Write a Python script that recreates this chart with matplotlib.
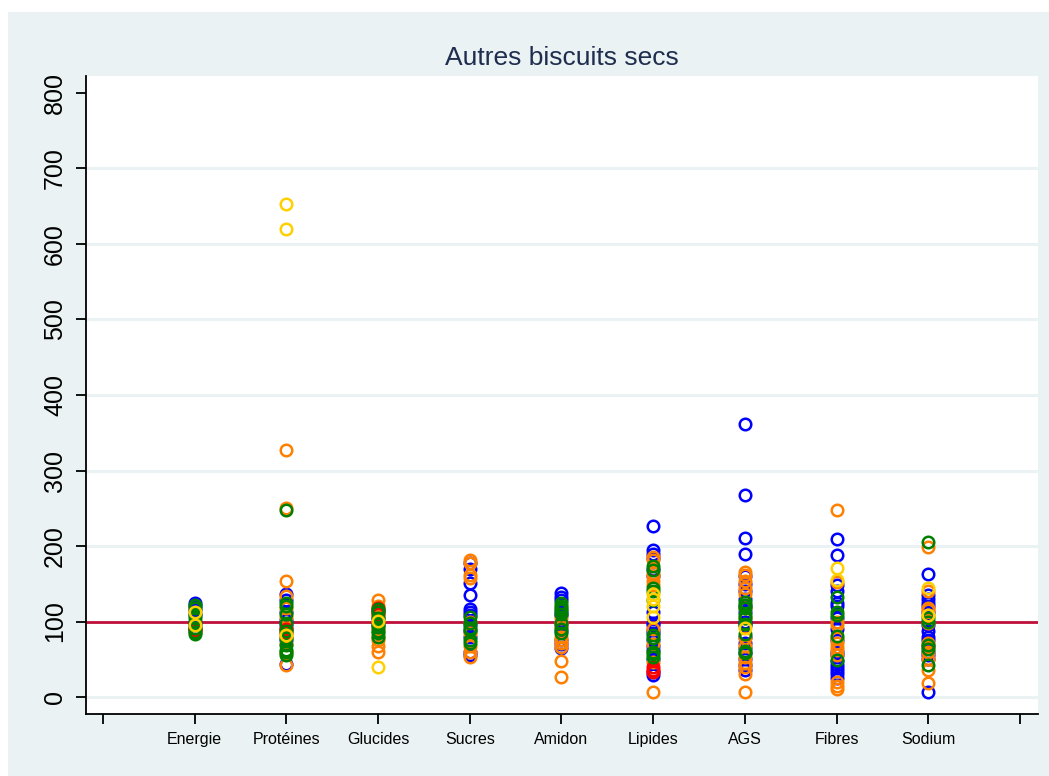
import numpy as np
import matplotlib
matplotlib.use("Agg")
import matplotlib.pyplot as plt
from matplotlib.patches import Rectangle

plt.rcParams['font.family'] = ['Liberation Sans', 'DejaVu Sans']

categories = ["Energie", "Protéines", "Glucides", "Sucres", "Amidon",
              "Lipides", "AGS", "Fibres", "Sodium"]

# one inner list per category, in the order above
bleu = [
    [124, 120, 115, 108, 100, 95, 90],
    [137, 128, 113, 102, 95, 90, 75, 44],
    [115, 105, 95],
    [177, 170, 151, 135, 116, 112, 108, 100, 95, 88, 80, 60, 56],
    [138, 133, 128, 113, 108, 95, 88, 75, 70, 65],
    [226, 195, 190, 184, 170, 160, 113, 98, 95, 89, 85, 75, 67, 62, 50, 33, 29],
    [362, 267, 210, 189, 160, 150, 140, 130, 120, 112, 100, 95, 80, 72, 65, 58, 50, 42, 36],
    [209, 188, 148, 140, 125, 120, 105, 90, 75, 60, 55, 48, 42, 38, 35, 30, 25],
    [163, 135, 130, 125, 120, 112, 100, 95, 88, 80, 75, 68, 60, 55, 50, 7],
]
orange = [
    [],
    [327, 250, 153, 134, 118, 106, 92, 80, 70, 58, 43],
    [128, 120, 108, 90, 80, 75, 68, 60],
    [181, 177, 161, 157, 100, 85, 67, 60, 53],
    [104, 98, 93, 80, 75, 71, 66, 48, 27],
    [186, 181, 164, 160, 153, 148, 90, 70, 47, 7],
    [166, 161, 153, 144, 137, 118, 104, 78, 67, 53, 45, 40, 31, 7],
    [248, 152, 100, 95, 78, 71, 66, 62, 56, 20, 14, 10],
    [199, 140, 118, 115, 108, 98, 72, 66, 60, 50, 36, 19],
]
rouge = [
    [90, 88],
    [85, 90],
    [118, 114, 110],
    [],
    [],
    [40, 36, 33],
    [],
    [],
    [],
]
vert = [
    [122, 118, 110, 104, 98, 92, 86, 84],
    [248, 124, 120, 110, 98, 88, 78, 69, 62, 56, 60],
    [117, 112, 105, 97, 93, 88, 85, 80],
    [106, 98, 92, 89, 75, 71],
    [124, 120, 118, 115, 110, 98, 90, 85],
    [174, 168, 144, 140, 128, 82, 78, 60, 53, 57],
    [126, 122, 118, 109, 104, 97, 84, 61, 58],
    [133, 113, 109, 81, 49],
    [205, 104, 100, 69, 64, 42],
]
jaune = [
    [112, 95],
    [653, 620, 82],
    [101, 40],
    [],
    [],
    [136, 130, 120, 106],
    [91],
    [171, 155],
    [144, 109],
]

series = [(bleu, '#0000FF'), (orange, '#FF8000'), (rouge, '#FF0000'),
          (vert, '#008000'), (jaune, '#FFD000')]

fig = plt.figure(figsize=(10.49, 7.76), dpi=100, facecolor='white')
fig.patches.append(Rectangle((8 / 1049, 0), 1, 1 - 12 / 776,
                             transform=fig.transFigure, facecolor='#EAF2F3',
                             edgecolor='none', zorder=-5))

ax = fig.add_axes([86 / 1049, 1 - 714 / 776, (1038 - 86) / 1049, (714 - 76) / 776])
ax.set_facecolor('white')

for y in range(0, 800, 100):
    ax.axhline(y, color='#EAF2F3', lw=2.2, zorder=1)
ax.axhline(100, color='#C0103A', lw=2, zorder=2)

for data, col in series:
    for i, vals in enumerate(data):
        if vals:
            ax.plot(np.full(len(vals), i + 1), vals, 'o', ms=8.3, mfc='none',
                    mec=col, mew=1.8, zorder=3)

ax.set_xlim(-0.185, 10.196)
ax.set_ylim(-22.5, 822.5)
ax.set_xticks(range(11))
ax.set_xticklabels([''] + categories + [''], fontsize=11.5)
ax.set_yticks(range(0, 900, 100))
ax.set_yticklabels([str(v) for v in range(0, 900, 100)], rotation=90,
                   fontsize=18, va='center')
ax.tick_params(axis='x', length=7, width=1.3, pad=6, direction='out')
ax.tick_params(axis='y', length=7.5, width=1.3, pad=6, direction='out')
for s in ['top', 'right']:
    ax.spines[s].set_visible(False)
for s in ['left', 'bottom']:
    ax.spines[s].set_linewidth(1.3)

fig.text(562 / 1049, 1 - 58 / 776, "Autres biscuits secs", fontsize=19,
         color='#1F2D4E', ha='center', va='center')

fig.savefig("out.png", dpi=100)
